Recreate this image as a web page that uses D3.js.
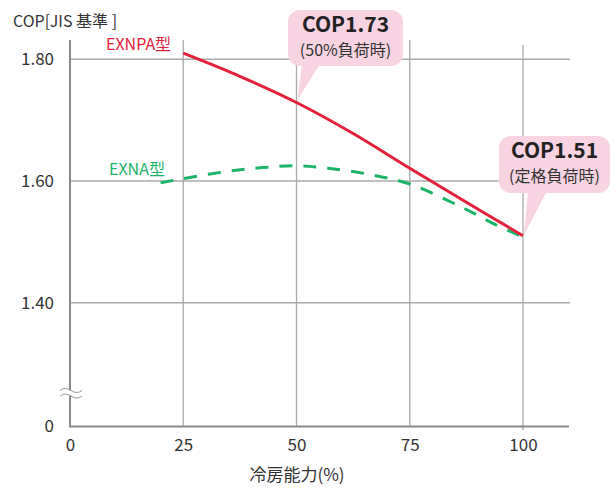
<!DOCTYPE html>
<html>
<head>
<meta charset="utf-8">
<script src="https://cdn.jsdelivr.net/npm/d3@7"></script>
<style>
  body { margin: 0; background: #fff; }
  text { font-family: "Noto Sans CJK JP", "Noto Sans", sans-serif; }
</style>
</head>
<body>
<svg id="chart" width="613" height="488"></svg>
<script>
// data
const xTicks = [0, 25, 50, 75, 100];
const yTicks = [0, 1.40, 1.60, 1.80];
const gridY = [1.40, 1.60, 1.80];
const gridX = [25, 50, 75, 100];

const exnpaLoad = [25, 37.5, 50, 62.5, 75, 87.5, 100];
const exnpaCop  = [1.81, 1.772, 1.729, 1.678, 1.621, 1.565, 1.51];

const exnaLoad = [20, 25, 35, 42.5, 50, 57, 66, 75, 87, 94, 100];
const exnaCop  = [1.597, 1.604, 1.616, 1.622, 1.625, 1.621, 1.611, 1.595, 1.555, 1.528, 1.508];

const svg = d3.select("#chart");

const RED = "#e5203c", GREEN = "#1db46a", GRID = "#ababab", AXIS = "#8a8a8a";

const x = d3.scaleLinear().domain([0, 100]).range([70, 523]);
// broken axis: 0 sits at the bottom, 1.40-1.80 is the real range
const y = d3.scaleLinear().domain([0, 1.40, 1.80]).range([426.5, 302.7, 59.3]);

// grid
svg.append("g").selectAll("line")
    .data(gridX)
    .enter()
    .append("line")
    .attr("x1", d => x(d)).attr("x2", d => x(d))
    .attr("y1", d => d === 100 ? 45 : 40)
    .attr("y2", d => d === 100 ? 430 : 426.5)
    .attr("stroke", GRID)
    .attr("stroke-width", 1.3);

svg.append("g").selectAll("line")
    .data(gridY)
    .enter()
    .append("line")
    .attr("x1", 70).attr("x2", 570)
    .attr("y1", d => y(d)).attr("y2", d => y(d))
    .attr("stroke", GRID)
    .attr("stroke-width", 1.5);

// axes
const xAxis = svg.append("g")
    .attr("transform", "translate(0,426.5)")
    .call(d3.axisBottom(x).tickValues(xTicks).tickSize(0).tickPadding(12).tickFormat(d3.format("d")));
xAxis.select(".domain").remove();
xAxis.selectAll("text").style("font-size", "17px").attr("fill", "#333");
svg.append("line")
    .attr("x1", 70).attr("x2", 569)
    .attr("y1", 426.5).attr("y2", 426.5)
    .attr("stroke", AXIS).attr("stroke-width", 2);

const yAxis = svg.append("g")
    .attr("transform", "translate(70,0)")
    .call(d3.axisLeft(y).tickValues(yTicks).tickSize(0).tickPadding(16)
        .tickFormat(d => d === 0 ? "0" : d3.format(".2f")(d)));
yAxis.select(".domain").remove();
yAxis.selectAll("text").style("font-size", "17px").attr("fill", "#333");
svg.append("line")
    .attr("x1", 70).attr("x2", 70)
    .attr("y1", 40).attr("y2", 427.5)
    .attr("stroke", AXIS).attr("stroke-width", 2);

// axis break mark
svg.append("rect")
    .attr("x", 60).attr("y", 390.5).attr("width", 22).attr("height", 5)
    .attr("fill", "#fff");
[389.5, 395].forEach(yy => {
    svg.append("path")
        .attr("d", `M60,${yy + 1} q5,-4 11,0 t11,0`)
        .attr("fill", "none")
        .attr("stroke", "#999")
        .attr("stroke-width", 1);
});

// titles
svg.append("text")
    .attr("x", 13).attr("y", 27)
    .style("font-size", "16px")
    .attr("fill", "#333")
    .text("COP[JIS 基準 ]");

svg.append("text")
    .attr("x", 297).attr("y", 481)
    .attr("text-anchor", "middle")
    .style("font-size", "17px")
    .attr("fill", "#333")
    .text("冷房能力(%)");

// lines
const line = d3.line()
    .x(d => x(d[0]))
    .y(d => y(d[1]))
    .curve(d3.curveCatmullRom);

svg.append("path")
    .datum(d3.zip(exnaLoad, exnaCop))
    .attr("d", line)
    .attr("fill", "none")
    .attr("stroke", GREEN)
    .attr("stroke-width", 3)
    .attr("stroke-dasharray", "13,11");

svg.append("path")
    .datum(d3.zip(exnpaLoad, exnpaCop))
    .attr("d", line)
    .attr("fill", "none")
    .attr("stroke", RED)
    .attr("stroke-width", 3);

// series labels
svg.append("text")
    .attr("x", 106).attr("y", 50)
    .style("font-size", "16px")
    .attr("fill", RED)
    .text("EXNPA型");

svg.append("text")
    .attr("x", 109).attr("y", 175)
    .style("font-size", "16px")
    .attr("fill", GREEN)
    .text("EXNA型");

// callouts
function callout(bx, by, bw, bh, tail, title, sub) {
    const g = svg.append("g");
    g.append("path")
        .attr("d", `M${tail[0]},${by + bh - 2} L${tail[1]},${by + bh - 2} L${tail[2]},${tail[3]} Z`)
        .attr("fill", "#f8d3e2");
    g.append("rect")
        .attr("x", bx).attr("y", by)
        .attr("width", bw).attr("height", bh)
        .attr("rx", 12)
        .attr("fill", "#f8d3e2");
    g.append("text")
        .attr("x", bx + bw / 2).attr("y", by + 22)
        .attr("text-anchor", "middle")
        .style("font-size", "21px")
        .style("font-weight", "bold")
        .attr("fill", "#222")
        .text(title);
    g.append("text")
        .attr("x", bx + bw / 2).attr("y", by + 46)
        .attr("text-anchor", "middle")
        .style("font-size", "16px")
        .attr("fill", "#333")
        .text(sub);
}

callout(288, 10, 115, 56, [302, 320, x(50) + 1, y(1.73) - 2], "COP1.73", "(50%負荷時)");
callout(499, 136, 111, 57, [528, 547, x(100) + 1, y(1.51) - 1], "COP1.51", "(定格負荷時)");
</script>
</body>
</html>
